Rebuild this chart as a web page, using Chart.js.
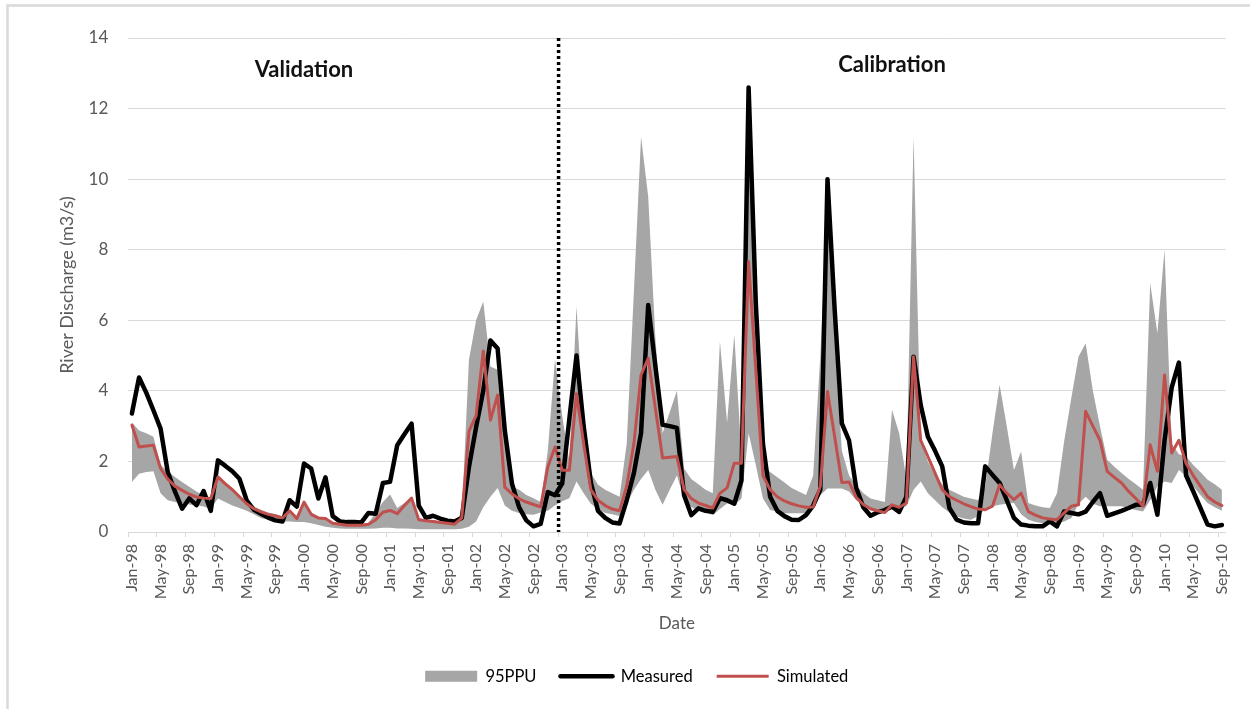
<!DOCTYPE html>
<html>
<head>
<meta charset="utf-8">
<title>River Discharge</title>
<script src="https://cdn.jsdelivr.net/npm/chart.js@4.4.1/dist/chart.umd.min.js"></script>
<style>
  html, body { margin: 0; padding: 0; background: #fff; }
  #wrap { width: 1250px; height: 709px; }
</style>
</head>
<body>
<div id="wrap"><canvas id="myChart" width="1250" height="709"></canvas></div>
<script>
// monthly series, Jan-98 .. Sep-10
const monthNames = ['Jan', 'Feb', 'Mar', 'Apr', 'May', 'Jun', 'Jul', 'Aug', 'Sep', 'Oct', 'Nov', 'Dec'];
const firstYear = 1998;
const monthCount = 153;

const measured = [
    3.36, 4.38, 3.95, 3.45, 2.93, 1.7, 1.15, 0.66, 0.95, 0.76, 1.16, 0.6,
    2.03, 1.88, 1.72, 1.51, 0.9, 0.63, 0.52, 0.41, 0.33, 0.3, 0.9, 0.72,
    1.94, 1.8, 0.95, 1.55, 0.45, 0.3, 0.28, 0.28, 0.27, 0.54, 0.52, 1.39,
    1.42, 2.46, 2.77, 3.07, 0.75, 0.4, 0.46, 0.38, 0.32, 0.3, 0.4, 1.84,
    2.97, 4.01, 5.43, 5.2, 2.88, 1.37, 0.7, 0.33, 0.16, 0.23, 1.13, 1.04,
    1.37, 3.2, 5.0, 3.0, 1.4, 0.6, 0.4, 0.27, 0.24, 0.9, 1.67, 2.8,
    6.43, 4.7, 3.04, 3.0, 2.95, 1.04, 0.48, 0.67, 0.6, 0.57, 0.96, 0.9,
    0.8, 1.46, 12.6, 6.5, 2.5, 1.0, 0.6, 0.45, 0.35, 0.34, 0.48, 0.75,
    1.2, 10.0, 6.3, 3.08, 2.6, 1.25, 0.7, 0.46, 0.56, 0.62, 0.72, 0.57,
    1.0, 4.97, 3.6, 2.7, 2.3, 1.86, 0.68, 0.35, 0.27, 0.25, 0.25, 1.86,
    1.62, 1.39, 0.9, 0.4, 0.21, 0.18, 0.16, 0.16, 0.3, 0.16, 0.58, 0.54,
    0.5, 0.58, 0.85, 1.1, 0.46, 0.53, 0.6, 0.68, 0.77, 0.78, 1.39, 0.49,
    2.6, 4.1, 4.8, 1.6, 1.15, 0.68, 0.21, 0.16, 0.2
];

const simulated = [
    3.03, 2.41, 2.44, 2.46, 1.8, 1.5, 1.3, 1.18, 1.07, 0.99, 0.96, 0.95,
    1.56, 1.37, 1.2, 1.0, 0.8, 0.66, 0.57, 0.5, 0.46, 0.4, 0.6, 0.38,
    0.85, 0.5, 0.4, 0.38, 0.25, 0.22, 0.19, 0.19, 0.19, 0.22, 0.35, 0.56,
    0.61, 0.52, 0.75, 0.96, 0.35, 0.32, 0.3, 0.27, 0.25, 0.22, 0.4, 2.85,
    3.3, 5.13, 3.17, 3.88, 1.27, 1.08, 0.94, 0.85, 0.78, 0.71, 1.84, 2.41,
    1.75, 1.75, 3.92, 2.5, 1.2, 0.9, 0.75, 0.65, 0.6, 1.3, 2.5, 4.45,
    4.92, 3.5, 2.1, 2.12, 2.14, 1.2, 0.95, 0.82, 0.75, 0.68, 1.1, 1.25,
    1.95, 1.95, 7.66, 4.6, 1.6, 1.2, 1.0, 0.88, 0.8, 0.74, 0.7, 0.71,
    1.3, 3.98, 2.7, 1.4, 1.42, 0.98, 0.78, 0.66, 0.6, 0.55, 0.77, 0.7,
    0.82, 4.97, 2.6, 2.14, 1.67, 1.2, 1.0, 0.9, 0.8, 0.72, 0.65, 0.63,
    0.73, 1.34, 1.1, 0.92, 1.1, 0.58, 0.48, 0.4, 0.37, 0.35, 0.54, 0.73,
    0.77, 3.42, 3.0, 2.6, 1.72, 1.55, 1.39, 1.15, 0.95, 0.73, 2.47, 1.72,
    4.45, 2.24, 2.6, 1.95, 1.6, 1.3, 1.0, 0.85, 0.75
];

// 95PPU band limits
const ppuUpper = [
    3.1, 2.88, 2.8, 2.7, 1.9, 1.72, 1.56, 1.42, 1.28, 1.15, 1.05, 0.98,
    1.6, 1.42, 1.25, 1.05, 0.86, 0.72, 0.63, 0.55, 0.5, 0.44, 0.62, 0.45,
    0.88, 0.55, 0.44, 0.4, 0.28, 0.25, 0.22, 0.22, 0.22, 0.26, 0.55, 0.85,
    1.06, 0.68, 0.82, 0.98, 0.4, 0.35, 0.33, 0.3, 0.28, 0.27, 0.45, 4.88,
    6.0, 6.53, 4.69, 4.6, 2.7, 1.29, 1.2, 1.05, 0.96, 0.85, 2.3, 4.9,
    3.3, 2.0, 6.4, 3.0, 1.67, 1.34, 1.2, 1.1, 1.0, 2.5, 6.8, 11.2,
    9.5, 5.5, 2.8, 3.4, 4.0, 1.8, 1.5, 1.35, 1.2, 1.1, 5.4, 3.1,
    5.6, 2.2, 12.0, 5.5, 1.9, 1.7, 1.55, 1.4, 1.25, 1.15, 1.05, 1.6,
    5.0, 9.5, 5.5, 2.3, 1.6, 1.32, 1.1, 0.95, 0.9, 0.85, 3.46, 2.8,
    1.5, 11.2, 2.6, 2.0, 1.6, 1.35, 1.2, 1.1, 1.0, 0.95, 0.9, 1.3,
    2.8, 4.17, 3.0, 1.76, 2.28, 0.82, 0.75, 0.7, 0.68, 1.1, 2.57, 3.8,
    4.97, 5.35, 4.0, 3.0, 2.05, 1.85, 1.67, 1.5, 1.35, 1.2, 7.05, 5.63,
    8.0, 2.5, 2.2, 2.14, 1.9, 1.7, 1.48, 1.35, 1.2
];

const ppuLower = [
    1.42, 1.65, 1.7, 1.72, 1.1, 0.9, 0.85, 0.82, 0.78, 0.76, 0.72, 0.66,
    0.95, 0.85, 0.75, 0.68, 0.6, 0.5, 0.4, 0.35, 0.32, 0.3, 0.3, 0.28,
    0.28, 0.25, 0.2, 0.15, 0.12, 0.1, 0.09, 0.09, 0.09, 0.09, 0.1, 0.12,
    0.12, 0.1, 0.1, 0.09, 0.08, 0.08, 0.08, 0.08, 0.08, 0.08, 0.09, 0.15,
    0.3, 0.7, 1.0, 1.25, 0.75, 0.6, 0.54, 0.5, 0.49, 0.55, 0.6, 0.75,
    0.87, 0.96, 1.43, 1.1, 0.8, 0.65, 0.54, 0.5, 0.45, 0.8, 1.2, 1.5,
    1.76, 1.2, 0.77, 1.2, 1.6, 0.95, 0.71, 0.6, 0.55, 0.48, 0.65, 0.81,
    0.76, 0.95, 2.8, 1.9, 0.95, 0.62, 0.58, 0.53, 0.53, 0.53, 0.53, 0.76,
    1.04, 1.23, 1.23, 1.23, 1.15, 0.9, 0.75, 0.62, 0.6, 0.57, 0.71, 0.67,
    0.73, 1.2, 1.43, 1.1, 0.9, 0.7, 0.55, 0.44, 0.38, 0.35, 0.45, 0.65,
    0.73, 0.77, 0.8, 0.82, 0.5, 0.35, 0.28, 0.25, 0.25, 0.25, 0.3, 0.4,
    0.8, 1.0, 0.8, 0.73, 0.73, 0.73, 0.73, 0.68, 0.62, 0.58, 0.9, 1.3,
    1.43, 1.39, 1.76, 1.58, 1.3, 1.05, 0.82, 0.7, 0.6
];

// "Jan-98", "Feb-98", ...
const dates = [];
for (let i = 0; i < monthCount; i++) {
    const yr = (firstYear + Math.floor(i / 12)) % 100;
    dates.push(monthNames[i % 12] + '-' + String(yr).padStart(2, '0'));
}

const yTicks = [0, 2, 4, 6, 8, 10, 12, 14];
const labelEvery = 4;        // a date label every 4 months
const calibrationStart = 60; // Jan-03

const fontFamily = 'Lato, "Liberation Sans", sans-serif';
const axisText = '#595959';
const gridGray = '#d9d9d9';
const bandGray = '#a6a6a6';
const simRed = '#c0504d';

// light frame round the chart
const chartFrame = {
    id: 'chartFrame',
    beforeDraw(chart) {
        const c = chart.ctx;
        c.save();
        c.fillStyle = '#fff';
        c.fillRect(0, 0, chart.width, chart.height);
        c.strokeStyle = gridGray;
        c.lineWidth = 2.5;
        c.beginPath();
        c.moveTo(7.5, chart.height);
        c.lineTo(7.5, 5.5);
        c.lineTo(chart.width, 5.5);
        c.stroke();
        c.restore();
    }
};

// dotted split line between the two periods, plus period names
const periodNames = [
    { text: 'Validation', at: 24, level: 13.1 },
    { text: 'Calibration', at: 106, level: 13.25 }
];
const splitMarker = {
    id: 'splitMarker',
    afterDatasetsDraw(chart) {
        const c = chart.ctx;
        const x = chart.scales.x;
        const y = chart.scales.y;
        const px = (x.getPixelForValue(calibrationStart - 1) + x.getPixelForValue(calibrationStart)) / 2;
        c.save();
        c.strokeStyle = '#000';
        c.lineWidth = 3.5;
        c.setLineDash([3, 3]);
        c.beginPath();
        c.moveTo(px, y.getPixelForValue(14));
        c.lineTo(px, y.getPixelForValue(0));
        c.stroke();
        c.setLineDash([]);
        c.font = 'bold 22px ' + fontFamily;
        c.fillStyle = '#111';
        c.textAlign = 'center';
        c.textBaseline = 'middle';
        periodNames.forEach(p => {
            c.fillText(p.text, x.getPixelForValue(p.at), y.getPixelForValue(p.level));
        });
        c.restore();
    }
};

const ctx = document.getElementById('myChart').getContext('2d');
const myChart = new Chart(ctx, {
    type: 'line',
    data: {
        labels: dates,
        datasets: [
            {
                label: 'Simulated',
                data: simulated,
                borderColor: simRed,
                borderWidth: 3,
                borderJoinStyle: 'round',
                borderCapStyle: 'round',
                pointRadius: 0,
                tension: 0,
                fill: false
            },
            {
                label: 'Measured',
                data: measured,
                borderColor: '#000',
                borderWidth: 4.5,
                borderJoinStyle: 'round',
                borderCapStyle: 'round',
                pointRadius: 0,
                tension: 0,
                fill: false
            },
            {
                label: '95PPU',
                data: ppuUpper,
                borderColor: 'rgba(0,0,0,0)',
                borderWidth: 0,
                backgroundColor: bandGray,
                pointRadius: 0,
                tension: 0,
                fill: '+1'
            },
            {
                label: '95PPU lower',
                data: ppuLower,
                borderColor: 'rgba(0,0,0,0)',
                borderWidth: 0,
                pointRadius: 0,
                tension: 0,
                fill: false
            }
        ]
    },
    options: {
        responsive: false,
        animation: false,
        events: [],
        layout: { padding: { left: 48, right: 24.5, top: 38, bottom: 14.5 } },
        plugins: {
            tooltip: { enabled: false },
            legend: {
                position: 'bottom',
                labels: {
                    usePointStyle: true,
                    pointStyleWidth: 52,
                    boxHeight: 11,
                    padding: 24,
                    color: axisText,
                    font: { family: fontFamily, size: 16.5 },
                    generateLabels: () => [
                        { text: '95PPU', pointStyle: 'rect', fillStyle: bandGray, strokeStyle: bandGray, lineWidth: 0, datasetIndex: 2 },
                        { text: 'Measured', pointStyle: 'line', strokeStyle: '#000', lineWidth: 4.5, lineCap: 'round', datasetIndex: 1 },
                        { text: 'Simulated', pointStyle: 'line', strokeStyle: simRed, lineWidth: 3, datasetIndex: 0 }
                    ]
                }
            }
        },
        scales: {
            x: {
                offset: true,
                grid: {
                    offset: true,
                    drawOnChartArea: false,
                    drawTicks: true,
                    tickLength: 5,
                    tickColor: c => (c.index % labelEvery === 0 ? gridGray : 'rgba(0,0,0,0)')
                },
                border: { display: true, color: gridGray, width: 1 },
                ticks: {
                    autoSkip: false,
                    minRotation: 90,
                    maxRotation: 90,
                    padding: 7,
                    color: axisText,
                    font: { family: fontFamily, size: 16 },
                    callback: (v, i) => (i % labelEvery === 0 ? dates[i] : '')
                },
                title: {
                    display: true,
                    text: 'Date',
                    color: axisText,
                    font: { family: fontFamily, size: 17 },
                    padding: { top: 0, bottom: 10 }
                },
                afterFit: s => { s.height = 112; }
            },
            y: {
                min: yTicks[0],
                max: yTicks[yTicks.length - 1],
                afterBuildTicks: s => { s.ticks = yTicks.map(v => ({ value: v })); },
                ticks: {
                    padding: 20,
                    color: axisText,
                    font: { family: fontFamily, size: 17 }
                },
                grid: { color: gridGray, drawTicks: false },
                border: { display: false },
                title: {
                    display: true,
                    text: 'River Discharge (m3/s)',
                    color: axisText,
                    font: { family: fontFamily, size: 18 },
                    padding: { top: 8, bottom: 0 }
                },
                afterFit: s => { s.width = 80.3; }
            }
        }
    },
    plugins: [chartFrame, splitMarker]
});
</script>
</body>
</html>
